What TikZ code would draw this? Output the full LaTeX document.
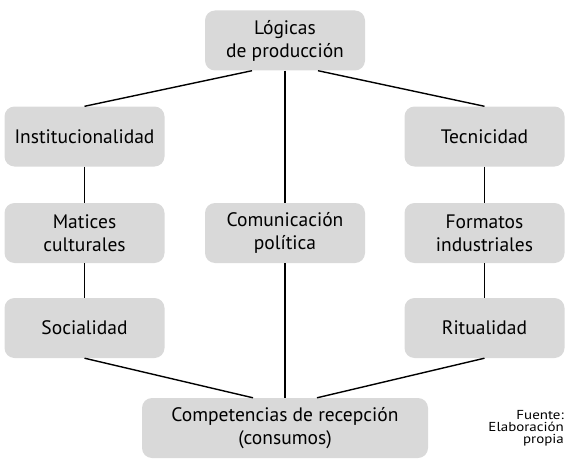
\documentclass[tikz,border=0pt]{standalone}
\usepackage{fontspec}
\setmainfont{PT Sans}
\newfontfamily\srcfont[FakeStretch=1.15]{PT Sans}
\definecolor{boxgray}{HTML}{D9D9D9}
\begin{document}
\begin{tikzpicture}[x=1pt,y=-1pt,
  box/.style={fill=boxgray, rounded corners=10pt, minimum width=160pt, minimum height=60pt,
    inner sep=0pt, align=center, font=\fontsize{19.5}{23}\selectfont},
  link/.style={draw=black, line width=1.4pt}]
\useasboundingbox (0,0) rectangle (565,460);
\node[box] (log) at (285,40.5) {Lógicas\\de producción};
\node[box] (ins) at (84.5,136.5) {Institucionalidad};
\node[box] (tec) at (484.5,136.5) {Tecnicidad};
\node[box] (mat) at (84.5,233) {Matices\\culturales};
\node[box] (com) at (285,233) {Comunicación\\política};
\node[box] (for) at (484.5,233) {Formatos\\industriales};
\node[box] (soc) at (84.5,328) {Socialidad};
\node[box] (rit) at (484.5,328) {Ritualidad};
\node[box, minimum width=286pt] (cpt) at (285,428) {Competencias de recepción\\(consumos)};
\node[align=right, anchor=north east, inner sep=0pt, font=\srcfont\fontsize{13}{12}\selectfont] (src) at (564,410) {Fuente:\\Elaboración\\propia};
\coordinate (logL) at ([xshift=-33pt]log.south);
\coordinate (logR) at ([xshift=33pt]log.south);
\coordinate (cptL) at ([xshift=-32pt]cpt.north);
\coordinate (cptR) at ([xshift=32pt]cpt.north);
\draw[link] (logL) -- (ins.north);
\draw[link] (logR) -- (tec.north);
\draw[link] (log.south) -- (com.north);
\draw[link] (com.south) -- (cpt.north);
\draw[link] (ins.south) -- (mat.north);
\draw[link] (mat.south) -- (soc.north);
\draw[link] (tec.south) -- (for.north);
\draw[link] (for.south) -- (rit.north);
\draw[link] (soc.south) -- (cptL);
\draw[link] (rit.south) -- (cptR);
\end{tikzpicture}
\end{document}
